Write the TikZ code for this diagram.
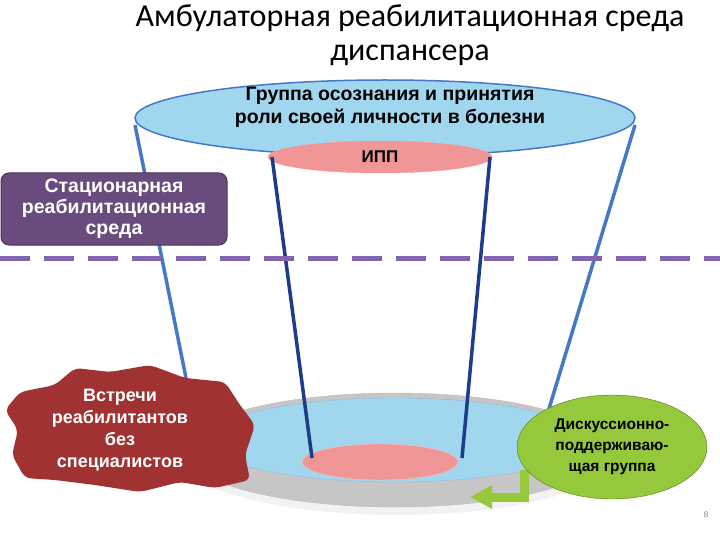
\documentclass[tikz,border=0pt]{standalone}
\usepackage{fontspec}
\setmainfont{Liberation Sans}
\newfontfamily\titlefont{Carlito}
\usetikzlibrary{arrows.meta}
\definecolor{lblue}{RGB}{160,215,238}
\definecolor{pinkc}{RGB}{240,150,150}
\definecolor{ropec}{RGB}{70,120,200}
\definecolor{ropeic}{RGB}{30,60,140}
\definecolor{purp}{RGB}{105,75,125}
\definecolor{dashc}{RGB}{130,100,175}
\definecolor{redb}{RGB}{160,50,50}
\definecolor{greenc}{RGB}{150,200,60}
\begin{document}
\begin{tikzpicture}[x=1pt,y=-1pt,
  txt/.style={align=center},
  rope/.style={line width=3.5pt,draw=ropec},
  ropein/.style={line width=3.5pt,draw=ropeic}]
\useasboundingbox (0,0) rectangle (720,540);
\node[font=\titlefont\fontsize{32}{34}\selectfont,align=center] (title) at (410,35) {Амбулаторная реабилитационная среда\\диспансера};
% bottom
\fill[gray!10] (397,455) ellipse (218 and 60);
\draw[gray!55,fill=gray!45] (395,450) ellipse (212 and 57);
\draw[cyan!50!blue!40,fill=lblue] (395,440) ellipse (190 and 42);
\draw[red!25,fill=pinkc] (380,462) ellipse (78 and 18);
% top
\draw[line width=1.5pt,draw=ropec,fill=lblue] (385,118) ellipse (250 and 38);
\node[txt,font=\bfseries\fontsize{19.5}{23}\selectfont] (grp) at (390,107) {Группа осознания и принятия\\роли своей личности в болезни};
\draw[red!40,fill=pinkc] (380,157) ellipse (112 and 16);
\node[txt,font=\bfseries\fontsize{17}{18}\selectfont] (ipp) at (380,157) {ИПП};
\coordinate (a1) at (135,125); \coordinate (a2) at (186,378);
\coordinate (b1) at (635,125); \coordinate (b2) at (548,412);
\coordinate (c1) at (272,157); \coordinate (c2) at (312,458);
\coordinate (d1) at (490,157); \coordinate (d2) at (462,458);
\draw[rope] (a1) -- (a2); \draw[rope] (b1) -- (b2);
\draw[ropein] (c1) -- (c2); \draw[ropein] (d1) -- (d2);
% station
\node[draw=purp!70!black,line width=1pt,fill=purp,rounded corners=8pt,minimum width=226pt,minimum height=72pt,txt,font=\bfseries\fontsize{19.5}{21}\selectfont,text=white] (stat) at (114,209) {Стационарная\\реабилитационная\\среда};
\coordinate (l1) at (0,258); \coordinate (l2) at (720,258);
\draw[dashc,line width=5pt,dash pattern=on 30pt off 14pt] (l1) -- (l2);
% red blob
\fill[redb,rounded corners=6pt] (20,392) -- (55,385) -- (75,368) -- (110,372) -- (150,365) -- (185,378) -- (225,382) -- (240,405) -- (255,425) -- (245,455) -- (250,480) -- (215,488) -- (180,482) -- (140,492) -- (95,485) -- (55,480) -- (25,478) -- (12,455) -- (18,430) -- (5,410) -- cycle;
\node[txt,text=white,font=\bfseries\fontsize{18}{22}\selectfont] (blob) at (120,430) {Встречи\\реабилитантов\\без\\специалистов};
% green
\coordinate (g1) at (524,470); \coordinate (g2) at (524,497); \coordinate (g3) at (470,497);
\draw[line width=9pt,draw=greenc,-{Triangle[width=22pt,length=22pt]}] (g1) -- (g2) -- (g3);
\draw[greenc!60!black,fill=greenc] (612,447) ellipse (95 and 52);
\node[txt,font=\bfseries\fontsize{15.5}{21}\selectfont] (disc) at (612,447) {Дискуссионно-\\поддерживаю-\\щая группа};
\node[font=\fontsize{8}{9}\selectfont,text=gray] (pg) at (706,515) {8};
\end{tikzpicture}
\end{document}
